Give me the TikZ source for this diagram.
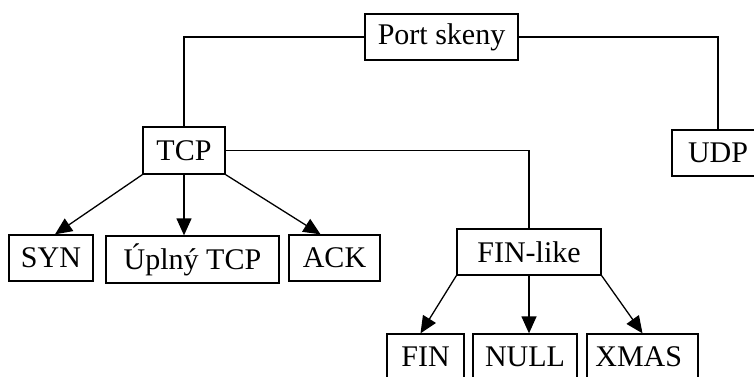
\documentclass[tikz,border=0pt]{standalone}
\usepackage{fontspec}
\setmainfont{Liberation Serif}
\usetikzlibrary{arrows.meta, calc}

\begin{document}
\begin{tikzpicture}[x=1pt, y=-1pt,
    box/.style={draw, line width=1.3pt, inner sep=0pt, align=center,
                font=\fontsize{30}{34}\selectfont},
    link/.style={line width=1.3pt},
    arr/.style={line width=1.3pt, -{Triangle[length=17pt, width=15pt]}}]
    \useasboundingbox (0,0) rectangle (754,377);
    % top of the tree
    \node[box, minimum width=153pt, minimum height=46pt] (port) at (441.5, 37) {Port skeny};
    \node[box, minimum width=82pt, minimum height=47pt] (tcp) at (184, 150.5) {TCP};
    \node[box, minimum width=92pt, minimum height=46pt] (udp) at (718, 153) {UDP};
    \node[box, minimum width=144pt, minimum height=46pt] (finlike) at (529, 252) {FIN-like};
    % leaves
    \foreach \id/\x/\y/\w/\h/\name in {
        synscan/51/258/84/46/SYN,
        fullscan/192.5/259.5/173/47/Úplný TCP,
        ackscan/334.5/258/91/46/ACK,
        finscan/425.5/357/77/46/FIN,
        nullscan/525/357/104/46/NULL,
        xmasscan/642.5/357/111/46/XMAS
    } {
        \node[box, minimum width=\w pt, minimum height=\h pt] (\id) at (\x, \y) {\name};
    }
    % elbow lines
    \draw[link] (port.west) -| (tcp.north);
    \draw[link] (port.east) -| (udp.north);
    \draw[link] (tcp.east) -| (finlike.north);
    % arrows down to the scans
    \draw[arr] (tcp.south west) -- ([xshift=4pt]synscan.north);
    \draw[arr] (tcp.south) -- (tcp.south |- fullscan.north);
    \draw[arr] (tcp.south east) -- ([xshift=-14pt]ackscan.north);
    \draw[arr] (finlike.south west) -- ([xshift=-5pt]finscan.north);
    \draw[arr] (finlike.south) -- (finlike.south |- nullscan.north);
    \draw[arr] (finlike.south east) -- (xmasscan.north);
\end{tikzpicture}
\end{document}
